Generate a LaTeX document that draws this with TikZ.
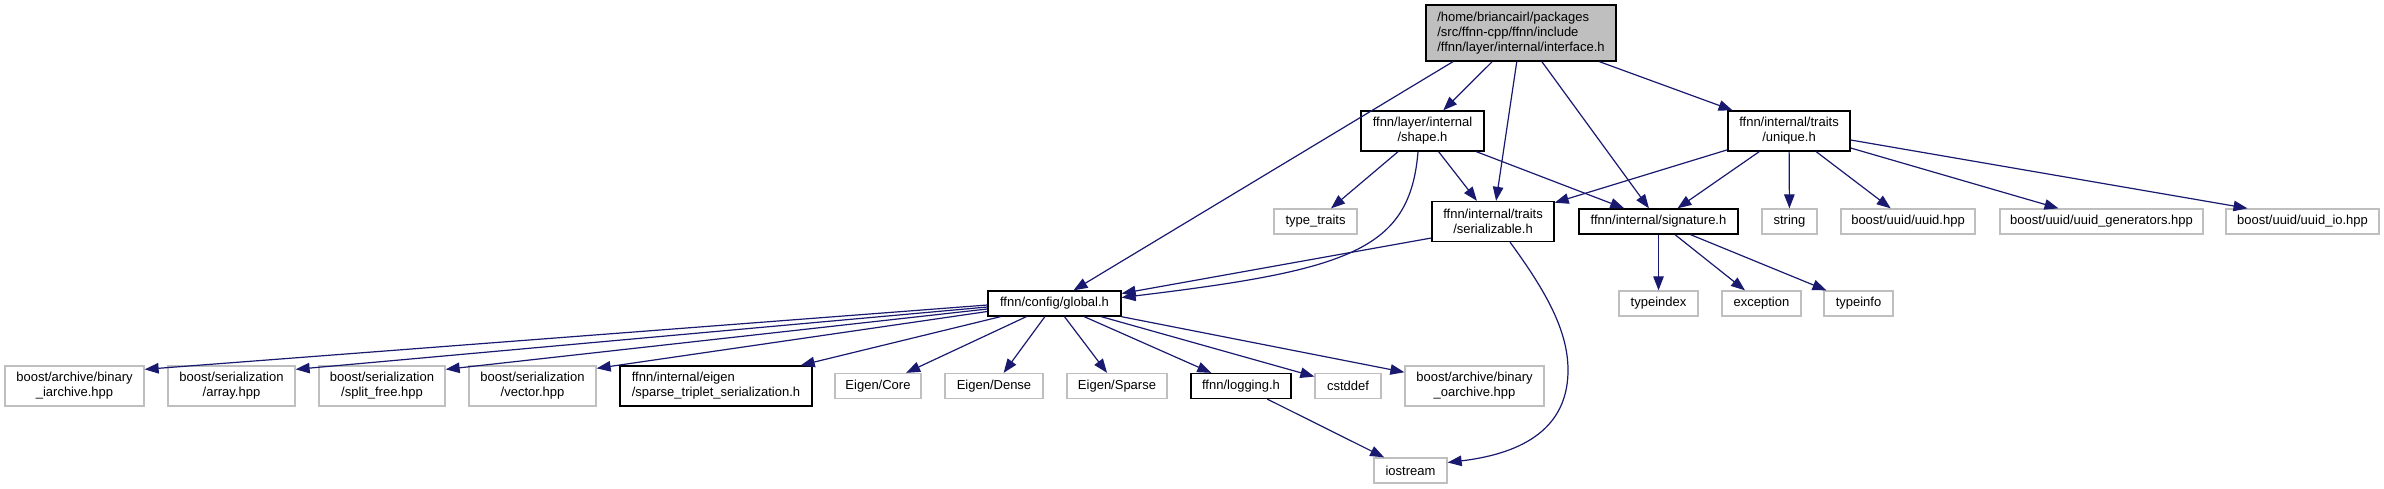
\documentclass[tikz,border=0pt]{standalone}
\usepackage{fontspec}
\setmainfont{Liberation Sans}
\usetikzlibrary{arrows.meta}
\definecolor{edgeblue}{HTML}{191970}
\definecolor{lgray}{HTML}{BFBFBF}
\begin{document}
\begin{tikzpicture}[x=1pt,y=-1pt,
  box/.style={rectangle, inner sep=0pt, line width=1.3pt, font=\fontsize{13}{15}\selectfont, align=center, text=black},
  doc/.style={box, draw=black},
  ext/.style={box, draw=lgray},
  one/.style={minimum height=25pt},
  two/.style={minimum height=40pt},
  dep/.style={draw=edgeblue, line width=1.2pt, -{Triangle[length=14pt,width=10.5pt]}},
]
\useasboundingbox[fill=white] (0,0) rectangle (2384,488);

% rank 0
\node[doc, fill=lgray, minimum width=190pt, minimum height=56pt, align=left] (iface) at (1521,33)
  {/home/briancairl/packages\\/src/ffnn-cpp/ffnn/include\\/ffnn/layer/internal/interface.h};
% rank 1
\node[doc, two, minimum width=123pt] (shape) at (1422.5,131) {ffnn/layer/internal\\/shape.h};
\node[doc, two, minimum width=122pt] (unique) at (1789,131) {ffnn/internal/traits\\/unique.h};
% rank 2
\node[ext, one, minimum width=83pt] (ttraits) at (1315.5,221.5) {type\_traits};
\node[doc, two, minimum width=122pt] (ser) at (1493,221.5) {ffnn/internal/traits\\/serializable.h};
\node[doc, one, minimum width=159pt] (sig) at (1658.5,221.5) {ffnn/internal/signature.h};
\node[ext, one, minimum width=55pt] (string) at (1789.5,221.5) {string};
\node[ext, one, minimum width=134pt] (uuid) at (1908,221.5) {boost/uuid/uuid.hpp};
\node[ext, one, minimum width=203pt] (gen) at (2101.5,221.5) {boost/uuid/uuid\_generators.hpp};
\node[ext, one, minimum width=153pt] (uio) at (2302.5,221.5) {boost/uuid/uuid\_io.hpp};
% rank 3
\node[doc, one, minimum width=133pt] (global) at (1054.5,303.5) {ffnn/config/global.h};
\node[ext, one, minimum width=79pt] (tindex) at (1658.5,303.5) {typeindex};
\node[ext, one, minimum width=79pt] (exc) at (1761.5,303.5) {exception};
\node[ext, one, minimum width=69pt] (tinfo) at (1858.5,303.5) {typeinfo};
% rank 4
\node[ext, two, minimum width=139pt] (iarch) at (74.5,386) {boost/archive/binary\\\_iarchive.hpp};
\node[ext, two, minimum width=127pt] (array) at (231.5,386) {boost/serialization\\/array.hpp};
\node[ext, two, minimum width=126pt] (split) at (382,386) {boost/serialization\\/split\_free.hpp};
\node[ext, two, minimum width=127pt] (vector) at (532.5,386) {boost/serialization\\/vector.hpp};
\node[doc, two, minimum width=192pt, align=left] (triplet) at (716,386) {ffnn/internal/eigen\\/sparse\_triplet\_serialization.h};
\node[ext, one, minimum width=86pt] (core) at (878,386) {Eigen/Core};
\node[ext, one, minimum width=98pt] (dense) at (994,386) {Eigen/Dense};
\node[ext, one, minimum width=100pt] (sparse) at (1117,386) {Eigen/Sparse};
\node[doc, one, minimum width=100pt] (logging) at (1241,386) {ffnn/logging.h};
\node[ext, one, minimum width=66pt] (cstddef) at (1348,386) {cstddef};
\node[ext, two, minimum width=139pt] (oarch) at (1474.5,386) {boost/archive/binary\\\_oarchive.hpp};
% rank 5
\node[ext, one, minimum width=73pt] (iostream) at (1410.5,470.5) {iostream};

% edges from interface
\draw[dep] ([xshift=-68pt]iface.south) -- ([xshift=19pt]global.north);
\draw[dep] (iface) -- (shape);
\draw[dep] (iface) -- (ser);
\draw[dep] (iface) -- (sig);
\draw[dep] (iface) -- (unique);
% edges from shape
\draw[dep] (shape) -- (ttraits);
\draw[dep] (shape) -- (ser);
\draw[dep] (shape) -- (sig);
\draw[dep] ([xshift=-4.5pt]shape.south) .. controls (1410,250) and (1350,270) .. ([yshift=6pt]global.east);
% edges from unique
\draw[dep] (unique) -- (ser);
\draw[dep] (unique) -- (sig);
\draw[dep] (unique) -- (string);
\draw[dep] (unique) -- (uuid);
\draw[dep] ([yshift=-17pt]unique.east) -- ([xshift=-43pt]gen.north);
\draw[dep] ([yshift=-9pt]unique.east) -- ([xshift=-55pt]uio.north);
% edges from serializable
\draw[dep] ([yshift=-16.5pt]ser.west) -- ([yshift=10pt]global.east);
\draw[dep] ([xshift=17pt]ser.south) .. controls (1545,290) and (1568,330) .. (1568,370)
  .. controls (1568,420) and (1535,452) .. ([yshift=8pt]iostream.east);
% edges from signature
\draw[dep] (sig) -- (tindex);
\draw[dep] (sig) -- (exc);
\draw[dep] (sig) -- (tinfo);
% edges from global
\draw[dep] ([yshift=-1.5pt]global.west) -- ([yshift=-4pt]iarch.north east);
\draw[dep] ([yshift=-3.5pt]global.west) -- ([yshift=-4pt]array.north east);
\draw[dep] ([yshift=-5.5pt]global.west) -- ([yshift=-4pt]split.north east);
\draw[dep] ([yshift=-8pt]global.west) -- ([yshift=-3pt]vector.north east);
\draw[dep] (global) -- (triplet);
\draw[dep] (global) -- (core);
\draw[dep] (global) -- (dense);
\draw[dep] (global) -- (sparse);
\draw[dep] (global) -- (logging);
\draw[dep] (global) -- (cstddef);
\draw[dep] (global) -- (oarch);
% logging
\draw[dep] (logging) -- (iostream);
\end{tikzpicture}
\end{document}
